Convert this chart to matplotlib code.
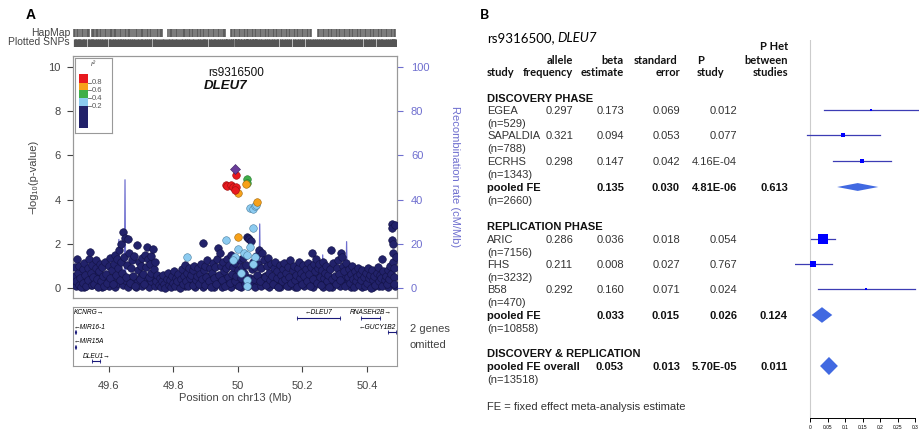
import matplotlib.pyplot as plt
from matplotlib.patches import Polygon, Rectangle

plt.rcParams['font.family'] = ['Liberation Sans', 'DejaVu Sans']

# ---------------- panel A data (LocusZoom) ----------------
# SNPs with r2 < 0.2 (navy)
navy_pos = [
    49.495, 49.497, 49.500, 49.502, 49.505, 49.508, 49.510, 49.513, 49.515, 49.520,
    49.522, 49.525, 49.528, 49.530, 49.535, 49.537, 49.540, 49.543, 49.545, 49.548,
    49.550, 49.553, 49.556, 49.560, 49.562, 49.565, 49.568, 49.570, 49.573, 49.576,
    49.580, 49.583, 49.586, 49.590, 49.593, 49.596, 49.600,
    49.603, 49.606, 49.610, 49.613, 49.616, 49.620, 49.623, 49.626, 49.630, 49.632,
    49.635, 49.638, 49.640, 49.642, 49.645, 49.648, 49.651, 49.654, 49.657, 49.660,
    49.663, 49.666, 49.670, 49.673, 49.676, 49.680, 49.683, 49.688, 49.690, 49.693,
    49.696, 49.700, 49.703, 49.706, 49.710, 49.713, 49.716, 49.719, 49.722, 49.725,
    49.728, 49.730, 49.733, 49.737, 49.740, 49.743, 49.746, 49.750,
    49.755, 49.758, 49.762, 49.765, 49.770, 49.772, 49.776, 49.780, 49.783, 49.786,
    49.790, 49.793, 49.796, 49.800, 49.803, 49.806, 49.810, 49.813, 49.816, 49.820,
    49.823, 49.826, 49.830, 49.833, 49.836, 49.840, 49.843, 49.846, 49.850, 49.853,
    49.856, 49.860, 49.863, 49.866, 49.870, 49.873, 49.876, 49.880,
    49.883, 49.886, 49.889, 49.892, 49.895, 49.898, 49.900, 49.903, 49.906, 49.910,
    49.913, 49.916, 49.920, 49.923, 49.926, 49.930, 49.933, 49.936, 49.938, 49.941,
    49.944, 49.947, 49.950, 49.953, 49.956, 49.960, 49.963, 49.966, 49.970, 49.973,
    49.976, 49.980, 49.983, 49.986, 49.990, 49.993, 49.996, 50.000, 50.003, 50.006,
    50.010, 50.013, 50.016, 50.020, 50.023, 50.026, 50.028, 50.031, 50.035, 50.040,
    50.043, 50.046, 50.050, 50.053, 50.056, 50.060, 50.063, 50.066, 50.070, 50.073,
    50.076, 50.080, 50.083, 50.086, 50.090, 50.093, 50.096, 50.100,
    50.103, 50.106, 50.110, 50.113, 50.116, 50.120, 50.123, 50.126, 50.130, 50.133,
    50.136, 50.140, 50.143, 50.146, 50.150, 50.153, 50.156, 50.160, 50.163, 50.166,
    50.170, 50.173, 50.176, 50.180, 50.183, 50.186, 50.190, 50.193, 50.196, 50.200,
    50.203, 50.206, 50.210, 50.213, 50.216, 50.220, 50.223, 50.226, 50.229, 50.232,
    50.235, 50.238, 50.241, 50.245, 50.248, 50.251, 50.255, 50.258, 50.260, 50.263,
    50.266, 50.270, 50.273, 50.276, 50.280, 50.283, 50.286, 50.290, 50.293, 50.296,
    50.300, 50.303, 50.306, 50.310, 50.313, 50.316, 50.320, 50.323, 50.326, 50.330,
    50.333, 50.336, 50.340, 50.343, 50.346, 50.350, 50.353, 50.356, 50.360, 50.363,
    50.366, 50.370, 50.373, 50.376, 50.380, 50.383, 50.386, 50.390, 50.393, 50.396,
    50.400, 50.403, 50.406, 50.410, 50.413, 50.416, 50.420, 50.423, 50.426, 50.430,
    50.433, 50.436, 50.440, 50.443, 50.446, 50.448, 50.451, 50.455, 50.458, 50.462,
    50.465, 50.468, 50.472, 50.474, 50.476, 50.478, 50.479, 50.480, 50.481, 50.482,
    50.483, 50.484, 50.485, 50.487, 50.489,
]
navy_logp = [
    0.95, 0.55, 0.30, 1.30, 0.70, 0.15, 1.00, 0.45, 0.05, 0.85,
    0.25, 1.15, 0.60, 0.10, 0.90, 0.35, 1.30, 1.63, 0.70, 0.15,
    1.05, 0.50, 0.20, 0.90, 1.25, 0.40, 0.05, 0.75, 1.10, 0.30,
    0.95, 0.55, 0.10, 1.20, 0.65, 0.25, 1.00,
    0.45, 1.35, 0.80, 0.20, 1.10, 1.50, 0.60, 1.30, 0.90, 1.70,
    0.35, 1.20, 2.00, 0.70, 2.53, 1.40, 2.26, 0.50, 1.05, 2.20,
    1.60, 0.25, 0.90, 1.25, 0.55, 1.45, 0.10, 1.95, 0.80, 1.20,
    0.40, 1.00, 1.35, 0.65, 0.20, 1.50, 0.95, 1.86, 1.30, 0.50,
    1.10, 0.70, 1.45, 1.75, 0.85, 1.20, 0.30, 0.60,
    0.15, 0.45, 0.05, 0.30, 0.60, 0.20, 0.00, 0.40, 0.70, 0.15,
    0.35, 0.05, 0.55, 0.25, 0.75, 0.10, 0.45, 0.30, 0.65, 0.00,
    0.40, 0.85, 0.20, 0.55, 1.05, 0.30, 0.70, 0.10, 0.90, 0.45,
    0.60, 0.15, 0.80, 1.00, 0.35, 0.55, 0.90, 0.20,
    0.65, 1.10, 0.40, 2.05, 0.80, 0.15, 1.00, 0.50, 1.25, 0.30,
    0.90, 0.05, 0.70, 1.15, 0.45, 0.95, 0.20, 1.30, 1.80, 0.60,
    1.60, 1.00, 0.35, 1.20, 0.75, 0.10, 0.90, 1.30, 0.50, 1.05,
    0.25, 1.50, 0.65, 0.95, 0.30, 1.15, 0.55, 0.80, 0.10, 1.25,
    0.45, 0.95, 1.35, 0.70, 0.20, 1.05, 2.30, 2.25, 2.20, 2.15,
    0.85, 1.20, 0.40, 0.95, 1.45, 0.60, 1.10, 1.72, 0.30, 0.90,
    1.60, 1.25, 0.50, 0.15, 1.00, 1.35, 0.70, 0.35,
    1.10, 0.55, 0.20, 0.90, 1.20, 0.45, 0.75, 0.05, 1.05, 0.60,
    0.30, 0.85, 1.15, 0.40, 0.70, 0.10, 0.95, 0.50, 1.25, 0.25,
    0.80, 1.00, 0.35, 0.60, 0.05, 0.90, 1.20, 0.45, 0.70, 0.20,
    1.05, 0.55, 0.85, 0.30, 1.15, 0.65, 0.10, 0.95, 1.58, 0.40,
    1.10, 0.75, 1.30, 0.25, 0.90, 1.10, 0.50, 0.15, 0.80, 1.20,
    0.45, 0.70, 1.00, 0.30, 0.60, 0.05, 0.85, 1.72, 0.40, 1.15,
    0.55, 0.20, 0.90, 1.25, 0.65, 0.35, 1.58, 1.40, 1.00, 0.75,
    0.10, 1.15, 0.50, 0.85, 0.25, 0.65, 1.00, 0.40, 0.05, 0.75,
    0.30, 0.55, 0.90, 0.15, 0.65, 0.35, 0.80, 0.50, 0.10, 0.70,
    0.25, 0.90, 0.45, 0.60, 0.00, 0.80, 0.35, 0.55, 0.15, 0.70,
    0.95, 0.30, 0.60, 0.45, 0.10, 1.30, 0.75, 0.35, 0.55, 0.20,
    0.80, 0.40, 1.00, 0.65, 2.90, 2.70, 2.17, 2.00, 1.60, 1.20,
    0.90, 0.50, 0.20, 2.85, 1.40,
]
# the dense low band of navy SNPs
low_pos = [
    49.493, 49.499, 49.506, 49.512, 49.518, 49.524, 49.531, 49.538, 49.546, 49.551,
    49.559, 49.566, 49.574, 49.581, 49.588, 49.594, 49.601, 49.608, 49.615, 49.621,
    49.628, 49.636, 49.644, 49.650, 49.659, 49.665, 49.672, 49.679, 49.686, 49.692,
    49.699, 49.705, 49.712, 49.718, 49.724, 49.731, 49.738, 49.745, 49.752, 49.768,
    49.778, 49.788, 49.798, 49.808, 49.818, 49.828, 49.838, 49.848, 49.858, 49.868,
    49.878, 49.884, 49.891, 49.897, 49.904, 49.911, 49.918, 49.925, 49.931, 49.939,
    49.946, 49.952, 49.958, 49.965, 49.972, 49.978, 49.985, 49.991, 49.998, 50.005,
    50.011, 50.018, 50.025, 50.032, 50.038, 50.045, 50.052, 50.058, 50.065, 50.072,
    50.078, 50.085, 50.092, 50.098, 50.105, 50.112, 50.118, 50.125, 50.132, 50.138,
    50.145, 50.152, 50.158, 50.165, 50.172, 50.178, 50.185, 50.192, 50.198, 50.205,
    50.212, 50.218, 50.225, 50.232, 50.238, 50.244, 50.252, 50.258, 50.265, 50.272,
    50.278, 50.285, 50.292, 50.298, 50.305, 50.312, 50.318, 50.325, 50.332, 50.338,
    50.345, 50.352, 50.358, 50.365, 50.372, 50.378, 50.385, 50.392, 50.398, 50.405,
    50.412, 50.418, 50.425, 50.432, 50.438, 50.445, 50.452, 50.458, 50.465, 50.471,
    50.478, 50.486,
]
low_logp = [
    0.20, 0.10, 0.40, 0.20, 0.50, 0.05, 0.30, 0.55, 0.15, 0.40,
    0.60, 0.20, 0.45, 0.05, 0.35, 0.55, 0.10, 0.30, 0.50, 0.05,
    0.25, 0.50, 0.15, 0.35, 0.05, 0.45, 0.20, 0.40, 0.05, 0.30,
    0.55, 0.10, 0.40, 0.20, 0.05, 0.30, 0.50, 0.10, 0.35, 0.50,
    0.25, 0.50, 0.40, 0.60, 0.15, 0.50, 0.10, 0.40, 0.30, 0.05,
    0.45, 0.30, 0.05, 0.45, 0.20, 0.55, 0.35, 0.05, 0.50, 0.25,
    0.40, 0.05, 0.50, 0.20, 0.45, 0.05, 0.35, 0.55, 0.15, 0.40,
    0.05, 0.30, 0.50, 0.10, 0.45, 0.25, 0.05, 0.35, 0.50, 0.10,
    0.40, 0.55, 0.25, 0.05, 0.35, 0.50, 0.15, 0.40, 0.05, 0.55,
    0.20, 0.45, 0.10, 0.50, 0.30, 0.05, 0.45, 0.20, 0.55, 0.10,
    0.35, 0.50, 0.20, 0.05, 0.45, 0.55, 0.25, 0.40, 0.05, 0.35,
    0.50, 0.15, 0.05, 0.40, 0.25, 0.50, 0.10, 0.35, 0.55, 0.20,
    0.45, 0.05, 0.30, 0.50, 0.20, 0.40, 0.05, 0.35, 0.50, 0.15,
    0.40, 0.05, 0.30, 0.45, 0.10, 0.35, 0.50, 0.20, 0.05, 0.35,
    0.45, 0.10,
]
# r2 0.2-0.4 (light blue)
ld02_pos = [50.037, 50.046, 50.053, 50.057, 50.046, 49.963, 50.000, 49.992, 50.018,
            50.028, 50.037, 50.053, 50.009, 50.028, 49.985, 50.046, 49.842, 50.030]
ld02_logp = [3.60, 3.57, 3.70, 3.75, 2.70, 2.17, 1.76, 1.40, 1.60,
             1.50, 1.86, 1.40, 0.70, 0.36, 1.27, 1.10, 1.40, 0.10]
# r2 0.4-0.6 (green)
ld04_pos = [50.028, 50.028]
ld04_logp = [4.93, 4.76]
# r2 0.6-0.8 (orange)
ld06_pos = [50.000, 50.025, 50.060, 50.000]
ld06_logp = [4.30, 4.70, 3.90, 2.30]
# r2 0.8-1 (red)
ld08_pos = [49.994, 49.963, 49.966, 49.980, 49.985, 49.994, 49.990]
ld08_logp = [5.10, 4.66, 4.62, 4.66, 4.57, 4.57, 4.43]
lead_pos = [49.990]
lead_logp = [5.38]

recomb_pos = [49.490, 49.510, 49.540, 49.570, 49.600, 49.620, 49.630, 49.632, 49.634, 49.645,
              49.649, 49.651, 49.653, 49.670, 49.710, 49.760, 49.820, 49.880, 49.930, 49.980,
              50.020, 50.050, 50.066, 50.068, 50.070, 50.100, 50.150, 50.200, 50.236, 50.238,
              50.240, 50.261, 50.263, 50.265, 50.300, 50.335, 50.337, 50.339, 50.400, 50.446,
              50.448, 50.450, 50.490]
recomb_rate = [0.5, 1.0, 0.6, 1.2, 0.8, 1.5, 2.0, 22.0, 2.0, 1.5,
               3.0, 49.0, 3.0, 1.0, 0.6, 0.8, 0.3, 0.5, 0.6, 0.4,
               1.2, 3.0, 4.0, 29.0, 4.0, 1.0, 1.5, 1.0, 2.0, 17.0,
               2.0, 2.0, 15.0, 2.0, 1.0, 2.0, 21.0, 2.0, 1.0, 2.0,
               7.0, 2.0, 1.0]

hapmap_pos = [
    49.492, 49.497, 49.503, 49.506, 49.512, 49.518, 49.521, 49.527, 49.533, 49.536,
    49.541, 49.548, 49.551, 49.556, 49.560, 49.563, 49.568, 49.575, 49.578, 49.584,
    49.590, 49.593, 49.598, 49.604, 49.607, 49.611, 49.617, 49.621, 49.624, 49.630,
    49.636, 49.640, 49.645, 49.650, 49.654, 49.659, 49.664, 49.668, 49.673, 49.679,
    49.684, 49.688, 49.693, 49.699, 49.703, 49.708, 49.714, 49.718, 49.723, 49.728,
    49.733, 49.738, 49.744, 49.749, 49.753, 49.758, 49.763, 49.766, 49.785, 49.789,
    49.794, 49.798, 49.803, 49.809, 49.813, 49.818, 49.823, 49.829, 49.833, 49.838,
    49.843, 49.848, 49.852, 49.858, 49.862, 49.867, 49.873, 49.878, 49.882, 49.887,
    49.893, 49.897, 49.903, 49.908, 49.912, 49.917, 49.923, 49.928, 49.932, 49.938,
    49.943, 49.948, 49.953, 49.958, 49.962, 49.979, 49.983, 49.988, 49.993, 49.998,
    50.003, 50.008, 50.013, 50.018, 50.023, 50.028, 50.033, 50.038, 50.043, 50.048,
    50.053, 50.058, 50.063, 50.068, 50.073, 50.078, 50.083, 50.088, 50.093, 50.098,
    50.103, 50.108, 50.113, 50.118, 50.123, 50.128, 50.133, 50.138, 50.143, 50.148,
    50.153, 50.158, 50.163, 50.168, 50.173, 50.178, 50.183, 50.188, 50.193, 50.198,
    50.203, 50.208, 50.213, 50.218, 50.223, 50.228, 50.248, 50.253, 50.258, 50.263,
    50.268, 50.273, 50.278, 50.283, 50.288, 50.293, 50.298, 50.303, 50.308, 50.313,
    50.318, 50.323, 50.328, 50.333, 50.338, 50.343, 50.348, 50.353, 50.358, 50.363,
    50.368, 50.373, 50.378, 50.383, 50.388, 50.393, 50.398, 50.403, 50.408, 50.413,
    50.418, 50.423, 50.428, 50.433, 50.438, 50.443, 50.448, 50.453, 50.458, 50.463,
    50.468, 50.473, 50.478, 50.483, 50.488,
]

genes = ['KCNRG', 'MIR16-1', 'MIR15A', 'DLEU1', 'DLEU7', 'RNASEH2B', 'GUCY1B2']
gene_start = [49.490, 49.497, 49.497, 49.550, 50.182, 50.383, 50.464]
gene_end = [49.491, 49.498, 49.498, 49.575, 50.315, 50.439, 50.490]
gene_strand = ['+', '-', '-', '+', '-', '+', '-']
gene_row = [0, 1, 2, 3, 0, 0, 1]

ld_breaks = ['0.8', '0.6', '0.4', '0.2']

# ---------------- panel B data (meta-analysis) ----------------
studies = ['EGEA', 'SAPALDIA', 'ECRHS', 'ARIC', 'FHS', 'B58']
study_n = ['529', '788', '1343', '7156', '3232', '470']
allele_freq = ['0.297', '0.321', '0.298', '0.286', '0.211', '0.292']
beta = [0.173, 0.094, 0.147, 0.036, 0.008, 0.160]
se = [0.069, 0.053, 0.042, 0.018, 0.027, 0.071]
p_study = ['0.012', '0.077', '4.16E-04', '0.054', '0.767', '0.024']

pooled_label = ['pooled FE', 'pooled FE', 'pooled FE overall']
pooled_n = ['2660', '10858', '13518']
pooled_beta = [0.135, 0.033, 0.053]
pooled_se = [0.030, 0.015, 0.013]
pooled_p = ['4.81E-06', '0.026', '5.70E-05']
pooled_phet = ['0.613', '0.124', '0.011']
sections = ['DISCOVERY PHASE', 'REPLICATION PHASE', 'DISCOVERY & REPLICATION']
forest_ticks = [0, 0.05, 0.1, 0.15, 0.2, 0.25, 0.3]

# ---------------- layout (figure pixels) ----------------
W, H = 919, 437
study_rows = [111, 136, 162, 240, 265, 290]
pooled_rows = [188, 316, 367]
section_rows = [99, 227, 354]

NAVY = '#22226a'
LD_COLORS = ['#e8191e', '#f7a11a', '#3fae49', '#8ccbf0', NAVY]
RECOMB = '#6f6fcf'
AXC = '#444444'


def fx(x):
    return x / W


def fy(y):
    return 1 - y / H


fig = plt.figure(figsize=(9.19, 4.37), dpi=100)
fig.set_facecolor('white')

# main association plot
ax = fig.add_axes([fx(73), fy(298), fx(397) - fx(73), fy(56) - fy(298)])
ax2 = ax.twinx()
ax.set_zorder(ax2.get_zorder() + 1)
ax.patch.set_visible(False)

ax2.plot(recomb_pos, recomb_rate, color=RECOMB, lw=0.9)
ax2.set_ylim(-4.5, 105)
ax2.set_yticks([0, 20, 40, 60, 80, 100])
ax2.tick_params(axis='y', colors=RECOMB, labelsize=8, length=4, pad=6)

pt = dict(s=30, linewidths=0.4, zorder=3)
ax.scatter(low_pos, low_logp, c=NAVY, edgecolors='#121245', **pt)
ax.scatter(navy_pos, navy_logp, c=NAVY, edgecolors='#121245', **pt)
ax.scatter(ld02_pos, ld02_logp, c=LD_COLORS[3], edgecolors='#4a7fa0', **pt)
ax.scatter(ld04_pos, ld04_logp, c=LD_COLORS[2], edgecolors='#2a7a30', **pt)
ax.scatter(ld06_pos, ld06_logp, c=LD_COLORS[1], edgecolors='#a06a10', **pt)
ax.scatter(ld08_pos, ld08_logp, c=LD_COLORS[0], edgecolors='#9a1010', **pt)
ax.scatter(lead_pos, lead_logp, c='#6a3d9a', marker='D', s=26, edgecolors='#3b1f5e',
           linewidths=0.4, zorder=4)

ax.set_xlim(49.49, 50.493)
ax.set_ylim(-0.45, 10.5)
ax.set_yticks([0, 2, 4, 6, 8, 10])
ax.set_xticks([])
ax.tick_params(axis='y', colors=AXC, labelsize=8, length=4, pad=5)
for a in (ax, ax2):
    for sp in a.spines.values():
        sp.set_color('#999999')
ax2.spines['right'].set_color('#999999')

fig.text(fx(33), fy(177), '−log₁₀(p-value)', rotation=90, ha='center', va='center',
         fontsize=8, color=AXC)
fig.text(fx(455), fy(177), 'Recombination rate (cM/Mb)', rotation=270, ha='center',
         va='center', fontsize=8, color=RECOMB)
fig.text(fx(208), fy(73), 'rs9316500', fontsize=8.5, va='center', color='#111')
fig.text(fx(204), fy(86), 'DLEU7', fontsize=9.5, va='center', style='italic',
         weight='bold', color='#111')

# r2 legend
lax = fig.add_axes([fx(75), fy(133), fx(112) - fx(75), fy(58) - fy(133)], zorder=6)
lax.set_xlim(75, 112)
lax.set_ylim(133, 58)
lax.set_xticks([])
lax.set_yticks([])
for sp in lax.spines.values():
    sp.set_color('#999999')
block_edges = [74, 83, 90, 98, 106, 128]
for i, col in enumerate(LD_COLORS):
    lax.add_patch(Rectangle((79, block_edges[i]), 9, block_edges[i + 1] - block_edges[i],
                            fc=col, ec='none'))
for i, lab in enumerate(ld_breaks):
    yb = block_edges[i + 1]
    lax.plot([88, 90.5], [yb, yb], color='#666', lw=0.6)
    lax.text(91.5, yb, lab, fontsize=5.5, va='center', color='#555')
lax.text(93, 65, 'r²', fontsize=5.5, style='italic', ha='center', va='center', color='#555')

# rug tracks
rax = fig.add_axes([fx(73), fy(47), fx(397) - fx(73), fy(29) - fy(47)])
rax.set_xlim(49.49, 50.493)
rax.set_ylim(0, 2)
rax.axis('off')
plotted_pos = sorted(navy_pos + low_pos + ld02_pos + ld04_pos + ld06_pos + ld08_pos + lead_pos)
rax.vlines(hapmap_pos, 1.08, 1.95, color='#555', lw=1.1)
rax.vlines(plotted_pos, 0.05, 0.92, color='#555', lw=0.9)
fig.text(fx(70), fy(33), 'HapMap', ha='right', va='center', fontsize=7.5, color=AXC)
fig.text(fx(70), fy(42), 'Plotted SNPs', ha='right', va='center', fontsize=7.5, color=AXC)

# gene track
gax = fig.add_axes([fx(73), fy(366), fx(397) - fx(73), fy(307) - fy(366)])
gax.set_xlim(49.49, 50.493)
gax.set_ylim(366, 307)
gax.set_yticks([])
gax.set_xticks([49.6, 49.8, 50.0, 50.2, 50.4])
gax.set_xticklabels(['49.6', '49.8', '50', '50.2', '50.4'])
gax.tick_params(axis='x', colors=AXC, labelsize=8, length=4, pad=7)
for sp in gax.spines.values():
    sp.set_color('#999999')
gax.set_xlabel('Position on chr13 (Mb)', fontsize=8, color=AXC, labelpad=1)
for name, st, en, strand, row in zip(genes, gene_start, gene_end, gene_strand, gene_row):
    ly = 313 + 14.5 * row
    gax.plot([st, en], [ly + 5, ly + 5], color='#1a1a7a', lw=0.8,
             marker='|', ms=2.5, mew=0.6)
    label = name + '→' if strand == '+' else '←' + name
    c = (st + en) / 2
    if c - 0.05 < 49.49:
        gax.text(49.493, ly, label, ha='left', va='center', fontsize=4.8, style='italic')
    elif c + 0.06 > 50.493:
        gax.text(50.489, ly, label, ha='right', va='center', fontsize=4.8, style='italic')
    else:
        gax.text(c, ly, label, ha='center', va='center', fontsize=4.8, style='italic')
fig.text(fx(410), fy(329), '2 genes', fontsize=8, va='center', color=AXC)
fig.text(fx(410), fy(345), 'omitted', fontsize=8, va='center', color=AXC)

fig.text(fx(26), fy(15), 'A', fontsize=10, weight='bold', va='center')
fig.text(fx(480), fy(15), 'B', fontsize=10, weight='bold', va='center', family='Lato')

# ---------------- panel B table ----------------
HDR = dict(family='Lato', weight='bold', fontsize=8, va='center', color='#111')
VAL = dict(fontsize=8, va='center', color='#333')
BVAL = dict(fontsize=8, va='center', color='#111', weight='bold')

fig.text(fx(487), fy(38), 'rs9316500,', family='Lato', fontsize=9.5, va='center')
fig.text(fx(557), fy(38), 'DLEU7', family='Lato', fontsize=9.5, va='center', style='italic')
fig.text(fx(788), fy(47), 'P Het', ha='right', **HDR)
fig.text(fx(573), fy(60), 'allele', ha='right', **HDR)
fig.text(fx(624), fy(60), 'beta', ha='right', **HDR)
fig.text(fx(677), fy(60), 'standard', ha='right', **HDR)
fig.text(fx(697), fy(60), 'P', ha='left', **HDR)
fig.text(fx(788), fy(60), 'between', ha='right', **HDR)
fig.text(fx(487), fy(72), 'study', ha='left', **HDR)
fig.text(fx(573), fy(72), 'frequency', ha='right', **HDR)
fig.text(fx(624), fy(72), 'estimate', ha='right', **HDR)
fig.text(fx(680), fy(72), 'error', ha='right', **HDR)
fig.text(fx(697), fy(72), 'study', ha='left', **HDR)
fig.text(fx(788), fy(72), 'studies', ha='right', **HDR)

for sec, y in zip(sections, section_rows):
    fig.text(fx(487), fy(y), sec, ha='left', **BVAL)

for i, y in enumerate(study_rows):
    fig.text(fx(487), fy(y), studies[i], ha='left', **VAL)
    fig.text(fx(487), fy(y + 13), '(n=%s)' % study_n[i], ha='left', **VAL)
    fig.text(fx(573), fy(y), allele_freq[i], ha='right', **VAL)
    fig.text(fx(624), fy(y), '%.3f' % beta[i], ha='right', **VAL)
    fig.text(fx(680), fy(y), '%.3f' % se[i], ha='right', **VAL)
    fig.text(fx(737), fy(y), p_study[i], ha='right', **VAL)

for i, y in enumerate(pooled_rows):
    fig.text(fx(487), fy(y), pooled_label[i], ha='left', **BVAL)
    fig.text(fx(487), fy(y + 13), '(n=%s)' % pooled_n[i], ha='left', **VAL)
    fig.text(fx(624), fy(y), '%.3f' % pooled_beta[i], ha='right', **BVAL)
    fig.text(fx(680), fy(y), '%.3f' % pooled_se[i], ha='right', **BVAL)
    fig.text(fx(737), fy(y), pooled_p[i], ha='right', **BVAL)
    fig.text(fx(788), fy(y), pooled_phet[i], ha='right', **BVAL)

fig.text(fx(487), fy(407), 'FE = fixed effect meta-analysis estimate', ha='left', **VAL)

# ---------------- panel B forest ----------------
fax = fig.add_axes([fx(795), fy(418), 1 - fx(795), fy(40) - fy(418)])
fax.set_xlim(-0.044, 0.31)
fax.set_ylim(418, 40)
fax.axvline(0, color='#cccccc', lw=0.8, zorder=0)
for b, s, y in zip(beta, se, study_rows):
    fax.plot([b - 1.96 * s, b + 1.96 * s], [y - 1, y - 1], color='#3c3cb4', lw=0.9)
    fax.plot(b, y - 1, marker='s', ms=0.18 / s * 0.72, color='#0000ff', mew=0)
for b, s, y in zip(pooled_beta, pooled_se, pooled_rows):
    h = 0.235 / s
    fax.add_patch(Polygon([[b - 1.96 * s, y - 1], [b, y - 1 - h / 2],
                           [b + 1.96 * s, y - 1], [b, y - 1 + h / 2]],
                          closed=True, fc='#4169e1', ec='none'))
for side in ('top', 'right', 'left'):
    fax.spines[side].set_visible(False)
fax.spines['bottom'].set_bounds(0, 0.3)
fax.spines['bottom'].set_linewidth(0.7)
fax.set_yticks([])
fax.set_xticks(forest_ticks)
fax.set_xticklabels(['%g' % t for t in forest_ticks])
fax.tick_params(axis='x', labelsize=3.5, length=3, width=0.7, pad=2)
fax.patch.set_visible(False)

fig.savefig('out.png', dpi=100)
